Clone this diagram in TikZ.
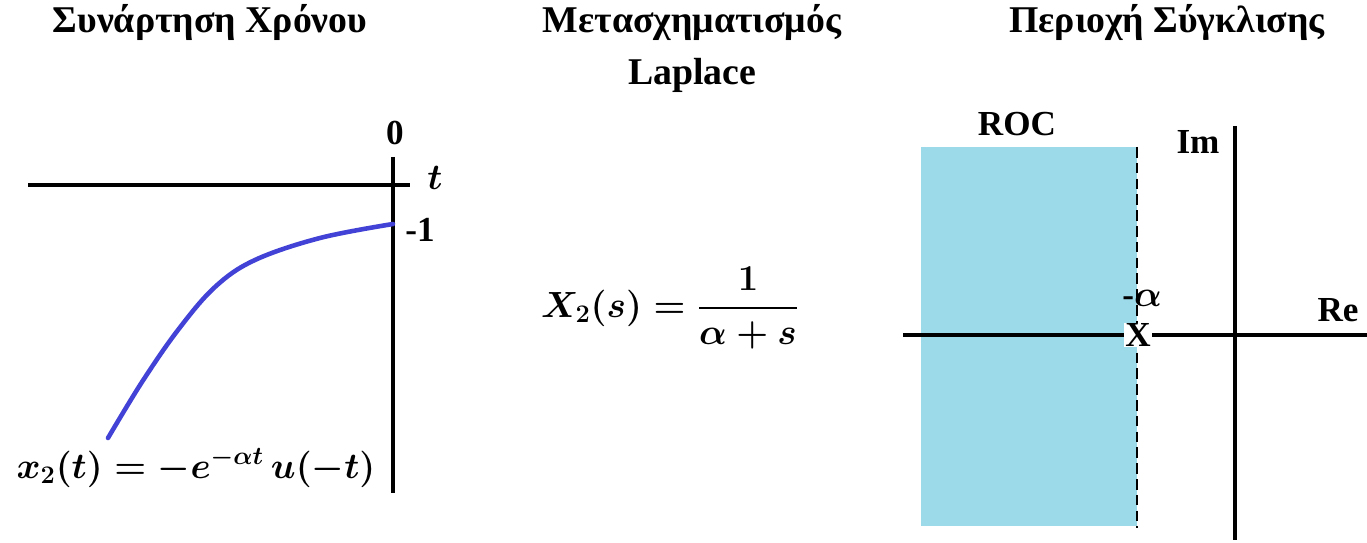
\documentclass[tikz,border=0pt]{standalone}
\usepackage{fontspec}
\setmainfont{Liberation Serif}
\usepackage{amsmath}
\usetikzlibrary{positioning}
\definecolor{curveblue}{RGB}{66,66,214}
\definecolor{rocblue}{RGB}{156,217,233}

\begin{document}
\begin{tikzpicture}[x=0.02cm, y=-0.02cm,
    axis/.style={line width=2.8pt},
    title/.style={font=\bfseries\fontsize{21.5}{25}\selectfont, inner sep=1pt},
    lbl/.style={font=\bfseries\fontsize{20}{24}\selectfont, inner sep=1pt},
    formula/.style={font=\boldmath\fontsize{21}{25}\selectfont, inner sep=1pt}]
  \useasboundingbox (0,0) rectangle (1367,543);
  % time function
  \begin{scope}
    \node[title] (ttime) at (210,22) {Συνάρτηση Χρόνου};
    \draw[axis] (28,185) -- (410,185);
    \draw[axis] (393,157) -- (393,493);
    \node[lbl] (zero) at (395,133) {0};
    \node[formula] (tlab) at (435,178) {$t$};
    \node[lbl] (minone) at (420,230) {-1};
    \draw[curveblue, line width=2.6pt, line cap=round]
      plot[smooth, tension=0.6] coordinates {(393,224) (320,238) (255,260) (215,287) (178,330) (142,382) (108,438)};
    \node[formula] (xtime) at (196,468) {$x_2(t) = -e^{-\alpha t}\,u(-t)$};
  \end{scope}
  % transform
  \begin{scope}
    \node[title] (tlap) at (692,22) {Μετασχηματισμός};
    \node[title] (tlap2) at (692,75) {Laplace};
    \node[formula] (xs) at (670,308) {$X_2(s) = \dfrac{1}{\alpha + s}$};
  \end{scope}
  % region of convergence
  \begin{scope}
    \node[title] (troc) at (1167,22) {Περιοχή Σύγκλισης};
    \fill[rocblue] (921,147) rectangle (1137,526);
    \draw[dashed, line width=0.8pt, dash pattern=on 6pt off 3pt] (1137,147) -- (1137,528);
    \node[lbl] (roc) at (1017,124) {ROC};
    \draw[axis] (903,335) -- (1367,335);
    \draw[axis] (1235,126) -- (1235,540);
    \node[lbl] (im) at (1198,142) {Im};
    \node[lbl] (re) at (1338,310) {Re};
    \node[lbl] (alpha) at (1142,298) {-$\boldsymbol{\alpha}$};
    \node[lbl, fill=white, inner sep=0.5pt] (pole) at (1138,335) {X};
  \end{scope}
\end{tikzpicture}
\end{document}
